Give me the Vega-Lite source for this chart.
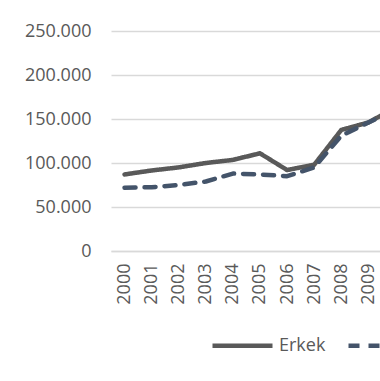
{
  "$schema": "https://vega.github.io/schema/vega-lite/v6.json",
  "autosize": "none",
  "width": 269,
  "height": 220,
  "padding": {"left": 111, "top": 31, "right": 0, "bottom": 130},
  "background": "white",
  "config": {
    "view": {"stroke": null},
    "locale": {"number": {"decimal": ",", "thousands": ".", "grouping": [3], "currency": ["", " ₺"]}},
    "axis": {"labelFont": "Open Sans", "labelFontSize": 18, "labelColor": "#595959", "ticks": false, "title": null}
  },
  "data": {
    "values": [
      {"yil": 2000, "seri": "Erkek", "deger": 87000},
      {"yil": 2001, "seri": "Erkek", "deger": 91500},
      {"yil": 2002, "seri": "Erkek", "deger": 95000},
      {"yil": 2003, "seri": "Erkek", "deger": 100000},
      {"yil": 2004, "seri": "Erkek", "deger": 103500},
      {"yil": 2005, "seri": "Erkek", "deger": 111000},
      {"yil": 2006, "seri": "Erkek", "deger": 92000},
      {"yil": 2007, "seri": "Erkek", "deger": 98000},
      {"yil": 2008, "seri": "Erkek", "deger": 137500},
      {"yil": 2009, "seri": "Erkek", "deger": 146000},
      {"yil": 2010, "seri": "Erkek", "deger": 163000},
      {"yil": 2000, "seri": "Kadın", "deger": 72000},
      {"yil": 2001, "seri": "Kadın", "deger": 72500},
      {"yil": 2002, "seri": "Kadın", "deger": 75000},
      {"yil": 2003, "seri": "Kadın", "deger": 79000},
      {"yil": 2004, "seri": "Kadın", "deger": 88000},
      {"yil": 2005, "seri": "Kadın", "deger": 87000},
      {"yil": 2006, "seri": "Kadın", "deger": 85000},
      {"yil": 2007, "seri": "Kadın", "deger": 95000},
      {"yil": 2008, "seri": "Kadın", "deger": 131000},
      {"yil": 2009, "seri": "Kadın", "deger": 146000},
      {"yil": 2010, "seri": "Kadın", "deger": 160000}
    ]
  },
  "mark": {"type": "line", "strokeWidth": 4.5, "strokeCap": "round", "strokeJoin": "round", "clip": false},
  "encoding": {
    "x": {
      "field": "yil", "type": "quantitative",
      "scale": {"domain": [1999.5, 2009.43], "nice": false, "zero": false},
      "axis": {"values": [2000, 2001, 2002, 2003, 2004, 2005, 2006, 2007, 2008, 2009], "format": "d", "labelAngle": -90, "labelPadding": 12, "labelFlush": false, "labelOverlap": false, "grid": false, "domain": true, "domainColor": "#d9d9d9", "domainWidth": 1.5}
    },
    "y": {
      "field": "deger", "type": "quantitative",
      "scale": {"domain": [0, 250000], "nice": false},
      "axis": {"values": [0, 50000, 100000, 150000, 200000, 250000], "format": ",.0f", "labelPadding": 20, "domain": false, "grid": true, "gridColor": "#d9d9d9", "gridWidth": 1.5, "labelFlush": false}
    },
    "color": {
      "field": "seri", "type": "nominal",
      "scale": {"domain": ["Erkek", "Kadın"], "range": ["#595959", "#44546A"]},
      "legend": {"orient": "none", "legendX": 99, "legendY": 282, "direction": "horizontal", "title": null, "symbolType": "stroke", "symbolSize": 3600, "symbolStrokeWidth": 4.5, "labelFont": "Open Sans", "labelFontSize": 18, "labelColor": "#595959", "labelOffset": 4, "columnPadding": 13, "padding": 0}
    },
    "strokeDash": {
      "field": "seri", "type": "nominal",
      "scale": {"domain": ["Erkek", "Kadın"], "range": [[1, 0], [11, 9]]},
      "legend": null
    }
  }
}
